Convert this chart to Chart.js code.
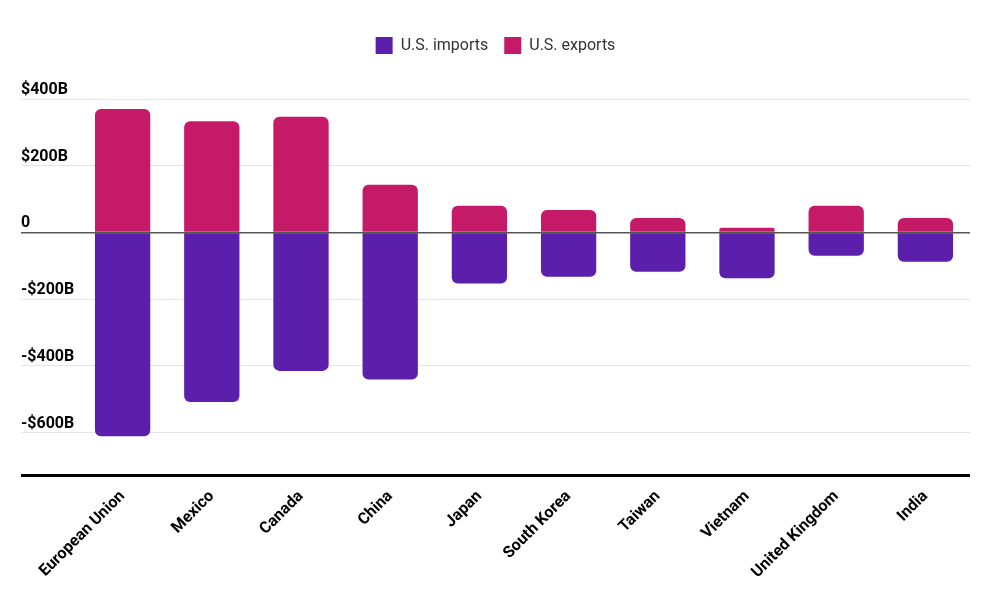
<!DOCTYPE html>
<html>
<head>
<meta charset="utf-8">
<script src="https://cdn.jsdelivr.net/npm/chart.js@4/dist/chart.umd.min.js"></script>
<style>
  html, body { margin: 0; padding: 0; background: #fff; }
  #wrap { width: 1000px; height: 595px; position: relative; }
</style>
</head>
<body>
<div id="wrap"><canvas id="chart"></canvas></div>
<script>
// --- Data (billions of USD) ---
const categories = ['European Union', 'Mexico', 'Canada', 'China', 'Japan', 'South Korea', 'Taiwan', 'Vietnam', 'United Kingdom', 'India'];
const imports = [-611, -508, -415, -441, -153, -133, -118, -137, -70, -88];
const exports = [370, 333, 347, 143, 80, 67, 43, 14, 80, 43];
const yTicks = [-600, -400, -200, 0, 200, 400];
const Y_MIN = -730, Y_MAX = 400;

const PURPLE = '#5b1fab';
const PINK = '#c51a67';

function money(v) {
    if (v === 0) return '0';
    return (v < 0 ? '-$' : '$') + Math.abs(v) + 'B';
}

// extra room under the legend
const legendGap = {
    id: 'legendGap',
    beforeInit(chart) {
        const fit = chart.legend.fit;
        chart.legend.fit = function () { fit.bind(chart.legend)(); this.height += 35; };
    }
};

const ctx = document.getElementById('chart').getContext('2d');
new Chart(ctx, {
    type: 'bar',
    data: {
        labels: categories,
        datasets: [
            { label: 'U.S. imports', data: imports, backgroundColor: PURPLE, borderRadius: 6, borderSkipped: 'start' },
            { label: 'U.S. exports', data: exports, backgroundColor: PINK, borderRadius: 6, borderSkipped: 'start' }
        ]
    },
    plugins: [legendGap],
    options: {
        responsive: true,
        maintainAspectRatio: false,
        animation: false,
        datasets: { bar: { categoryPercentage: 1, barPercentage: 0.62 } },
        layout: { padding: { left: 21, right: 30, top: 21, bottom: 10 } },
        plugins: {
            legend: {
                position: 'top',
                labels: {
                    boxWidth: 17, boxHeight: 17, padding: 16,
                    color: '#333',
                    font: { family: 'Roboto', size: 16 }
                }
            },
            tooltip: { enabled: false }
        },
        scales: {
            x: {
                stacked: true,
                grid: { display: false },
                border: { display: false },
                ticks: {
                    minRotation: 45, maxRotation: 45,
                    color: '#000',
                    font: { family: 'Roboto', size: 16, weight: 'bold' }
                }
            },
            y: {
                stacked: true,
                min: Y_MIN, max: Y_MAX,
                afterBuildTicks: s => { s.ticks = [Y_MIN].concat(yTicks).map(v => ({ value: v })); },
                afterFit: s => { s.width = 57; },
                border: { display: false },
                grid: {
                    drawTicks: true,
                    tickLength: 57,
                    color: c => {
                        if (!c.tick) return '#e4e4e4';
                        if (c.tick.value === Y_MIN) return '#000';
                        if (c.tick.value === 0) return '#555';
                        return '#e4e4e4';
                    },
                    lineWidth: c => {
                        if (!c.tick) return 1;
                        if (c.tick.value === Y_MIN) return 3;
                        if (c.tick.value === 0) return 1.5;
                        return 1;
                    }
                },
                ticks: {
                    crossAlign: 'far',
                    padding: 0,
                    labelOffset: -9,
                    color: '#000',
                    font: { family: 'Roboto', size: 16, weight: 'bold' },
                    callback: v => v === Y_MIN ? '' : money(v)
                }
            }
        }
    }
});
</script>
</body>
</html>
